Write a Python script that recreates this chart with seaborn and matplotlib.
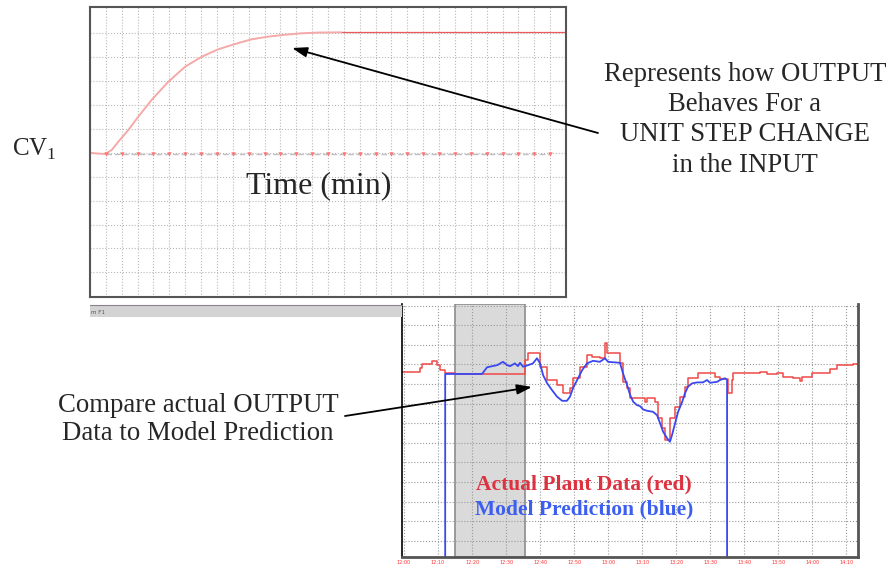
import matplotlib
matplotlib.use('Agg')
import matplotlib.pyplot as plt
import seaborn as sns
import pandas as pd
from matplotlib.patches import Rectangle
from matplotlib.lines import Line2D

# --- data ---
# top panel: unit step response of CV1 (time in grid units)
step_time = [0, 0.32, 0.95, 1.37, 1.78, 2.41, 3.04, 3.88, 4.93, 5.99, 7.04, 8.08,
             9.13, 10.19, 11.23, 12.29, 13.34, 14.39, 15.86, 30.0]
step_cv = [5.00, 4.98, 4.95, 5.12, 5.46, 5.95, 6.51, 7.21, 7.97, 8.60, 9.02, 9.33,
           9.55, 9.75, 9.86, 9.94, 10.00, 10.03, 10.04, 10.04]
input_time = [1, 2, 3, 4, 5, 6, 7, 8, 9, 10, 11, 12, 13, 14, 15, 16, 17, 18, 19,
              20, 21, 22, 23, 24, 25, 26, 27, 28, 29]
input_level = [4.95, 4.95, 4.95, 4.95, 4.95, 4.95, 4.95, 4.95, 4.95, 4.95, 4.95,
               4.95, 4.95, 4.95, 4.95, 4.95, 4.95, 4.95, 4.95, 4.95, 4.95, 4.95,
               4.95, 4.95, 4.95, 4.95, 4.95, 4.95, 4.95]

# bottom panel: actual plant data (red, stepped) vs model prediction (blue)
red_time = [-0.6, 4.7, 5.3, 8.2, 9.7, 10.6, 12.1, 15.0, 35.6, 36.5, 40.0, 42.1, 45.0,
            46.8, 48.8, 49.7, 51.8, 53.8, 55.3, 57.6, 59.1, 59.7, 63.5, 64.4, 65.6,
            66.5, 70.9, 71.5, 73.8, 74.7, 75.9, 76.8, 78.2, 79.7, 81.2, 82.6, 83.5,
            86.5, 91.5, 92.9, 95.3, 96.5, 96.8, 104.7, 106.8, 109.7, 111.5, 114.4,
            116.5, 117.1, 120.0, 125.3, 127.4, 132.1, 133.5]
red_level = [8.62, 8.81, 9.00, 9.18, 8.96, 8.71, 8.57, 8.51, 9.22, 9.59, 8.88, 8.20,
             7.94, 7.52, 7.79, 8.29, 8.88, 9.47, 9.39, 9.32, 10.10, 9.56, 9.07, 8.11,
             7.79, 7.27, 7.09, 7.27, 7.09, 6.24, 5.73, 5.14, 6.24, 6.84, 7.35, 7.86,
             8.29, 8.54, 8.37, 8.23, 7.52, 8.20, 8.54, 8.60, 8.53, 8.54, 8.37, 8.29,
             8.16, 8.34, 8.54, 8.74, 8.96, 9.02, 9.02]
blue_time = [12.1, 12.1, 22.9, 23.2, 24.4, 27.4, 29.1, 30.3, 31.2, 32.6, 33.5, 34.1,
             35.0, 36.5, 37.9, 39.1, 40.0, 40.9, 42.1, 43.5, 45.0, 46.5, 47.9, 48.8,
             49.7, 50.9, 52.4, 53.8, 55.6, 57.6, 59.1, 60.0, 63.5, 64.4, 65.6, 66.5,
             67.4, 68.5, 69.4, 70.3, 71.5, 73.2, 74.4, 75.3, 76.2, 77.4, 78.2, 78.8,
             79.7, 80.6, 81.8, 82.6, 83.5, 84.7, 86.2, 87.9, 89.1, 90.0, 92.1, 92.9,
             94.4, 95.0, 95.0]
blue_level = [-1.0, 8.51, 8.51, 8.57, 8.85, 8.96, 9.13, 8.96, 8.91, 9.05, 8.91, 9.08,
              8.88, 8.96, 9.05, 9.31, 9.05, 8.45, 8.03, 7.69, 7.35, 7.14, 7.14, 7.35,
              7.79, 8.20, 8.71, 9.05, 9.18, 9.13, 9.31, 9.13, 9.08, 8.54, 7.94, 7.43,
              7.09, 6.92, 6.87, 6.70, 6.63, 6.58, 6.41, 5.99, 5.56, 5.22, 5.05, 5.39,
              5.99, 6.58, 7.09, 7.52, 7.86, 8.03, 8.08, 8.08, 8.20, 8.06, 8.11, 8.20,
              8.29, 8.20, -1.0]
fit_window = (15.0, 35.6)
tick_minutes = [0, 10, 20, 30, 40, 50, 60, 70, 80, 90, 100, 110, 120, 130]
tick_labels = ['12:00', '12:10', '12:20', '12:30', '12:40', '12:50', '13:00',
               '13:10', '13:20', '13:30', '13:40', '13:50', '14:00', '14:10']

right_note = ['Represents how OUTPUT', 'Behaves For a', 'UNIT STEP CHANGE', 'in the INPUT']
left_note = ['Compare actual OUTPUT', 'Data to Model Prediction']

W, H = 889, 565


def fpos(x, y):
    # image pixel position -> figure fraction
    return (x / W, 1 - y / H)


sns.set_style('white')
plt.rcParams['font.family'] = ['Liberation Serif', 'DejaVu Serif']

fig = plt.figure(figsize=(W / 100, H / 100), dpi=100)

# ---------------- top panel ----------------
ax1 = fig.add_axes([90 / W, 1 - 297 / H, 476 / W, 290 / H])
step_df = pd.DataFrame({'t': step_time, 'cv': step_cv})
sns.lineplot(data=step_df.iloc[:19], x='t', y='cv', ax=ax1, color='#f5a9a9', lw=1.4,
             estimator=None, sort=False)
sns.lineplot(data=step_df.iloc[18:], x='t', y='cv', ax=ax1, color='#e85a5c', lw=0.9,
             estimator=None, sort=False)
sns.lineplot(x=input_time, y=input_level, ax=ax1, color='#c0c0c0', lw=1.0,
             linestyle=(0, (4, 2)), estimator=None, sort=False)
sns.scatterplot(x=input_time, y=input_level, ax=ax1, marker='v', color='#ff7777',
                s=10, linewidth=0, zorder=3)
ax1.set_xlim(0, 30)
ax1.set_ylim(-1.03, 11.1)
ax1.set_xticks(range(0, 31))
ax1.set_yticks(range(0, 11))
ax1.grid(True, color='#b8b8b8', ls=':', lw=0.8)
ax1.tick_params(length=0, labelbottom=False, labelleft=False)
ax1.set_xlabel('')
ax1.set_ylabel('')
for side in ['left', 'right', 'top', 'bottom']:
    ax1.spines[side].set_color('#555555')
    ax1.spines[side].set_linewidth(1.5)

ax1.annotate('', xy=fpos(292, 48), xytext=fpos(598, 133),
             xycoords='figure fraction', textcoords='figure fraction',
             arrowprops=dict(arrowstyle='-|>,head_length=0.6,head_width=0.2',
                             color='black', lw=1.3, mutation_scale=15,
                             shrinkA=0, shrinkB=0))

# ---------------- window bar ----------------
fig.add_artist(Rectangle(fpos(90, 317), 312 / W, 12 / H, transform=fig.transFigure,
                         facecolor='#d3d3d3', edgecolor='none'))
fig.add_artist(Line2D([90 / W, 402 / W], [1 - 305 / H, 1 - 305 / H],
                      transform=fig.transFigure, color='#8a808a', lw=0.8))
fig.text(*fpos(91, 314), 'm F1', fontsize=4, color='#555555', family='DejaVu Sans')

# ---------------- bottom panel ----------------
ax2 = fig.add_axes([402 / W, 1 - 557 / H, 456 / W, 253 / H])
ax2.axvspan(*fit_window, facecolor='#dadada', edgecolor='#8c8c8c', lw=1.2, zorder=0.5)
sns.lineplot(x=red_time, y=red_level, ax=ax2, color='#f04848', lw=1.1,
             drawstyle='steps-post', estimator=None, sort=False)
sns.lineplot(x=blue_time, y=blue_level, ax=ax2, color='#3a48f0', lw=1.3,
             estimator=None, sort=False)
ax2.set_xlim(-0.6, 133.5)
ax2.set_ylim(-0.83, 12.08)
ax2.set_axisbelow('line')
ax2.set_xticks(tick_minutes)
ax2.set_xticklabels(tick_labels, fontsize=3.5, color='#ff3030', family='DejaVu Sans')
ax2.set_yticks(range(0, 13))
ax2.grid(True, color='#9a9a9a', ls=':', lw=0.8)
ax2.tick_params(axis='x', length=0, pad=2)
ax2.tick_params(axis='y', length=0, labelleft=False)
ax2.set_xlabel('')
ax2.set_ylabel('')
ax2.spines['top'].set_visible(False)
ax2.spines['left'].set_color('black')
ax2.spines['left'].set_linewidth(1.2)
for side in ['right', 'bottom']:
    ax2.spines[side].set_color('#555555')
    ax2.spines[side].set_linewidth(2)

ax2.annotate('', xy=fpos(532, 387), xytext=fpos(345, 416),
             xycoords='figure fraction', textcoords='figure fraction',
             arrowprops=dict(arrowstyle='-|>,head_length=0.6,head_width=0.2',
                             color='black', lw=1.3, mutation_scale=15,
                             shrinkA=0, shrinkB=0))

fig.text(*fpos(476, 489), 'Actual Plant Data (red)', fontsize=15.5, weight='bold',
         color='#dd3340', va='baseline')
fig.text(*fpos(475, 514), 'Model Prediction (blue)', fontsize=15.5, weight='bold',
         color='#3d5ff0', va='baseline')

# ---------------- free text ----------------
fig.text(*fpos(318.5, 193), 'Time (min)', fontsize=23, ha='center', va='baseline')
fig.text(*fpos(12, 156), r'CV$_\mathregular{1}$', fontsize=18, va='baseline')
for line, base in zip(right_note, [81, 111, 141, 172]):
    fig.text(*fpos(745, base), line, fontsize=19.3, ha='center', va='baseline')
for line, base in zip(left_note, [412, 440]):
    fig.text(*fpos(198, base), line, fontsize=19.3, ha='center', va='baseline')

fig.savefig('out.png', dpi=100)
